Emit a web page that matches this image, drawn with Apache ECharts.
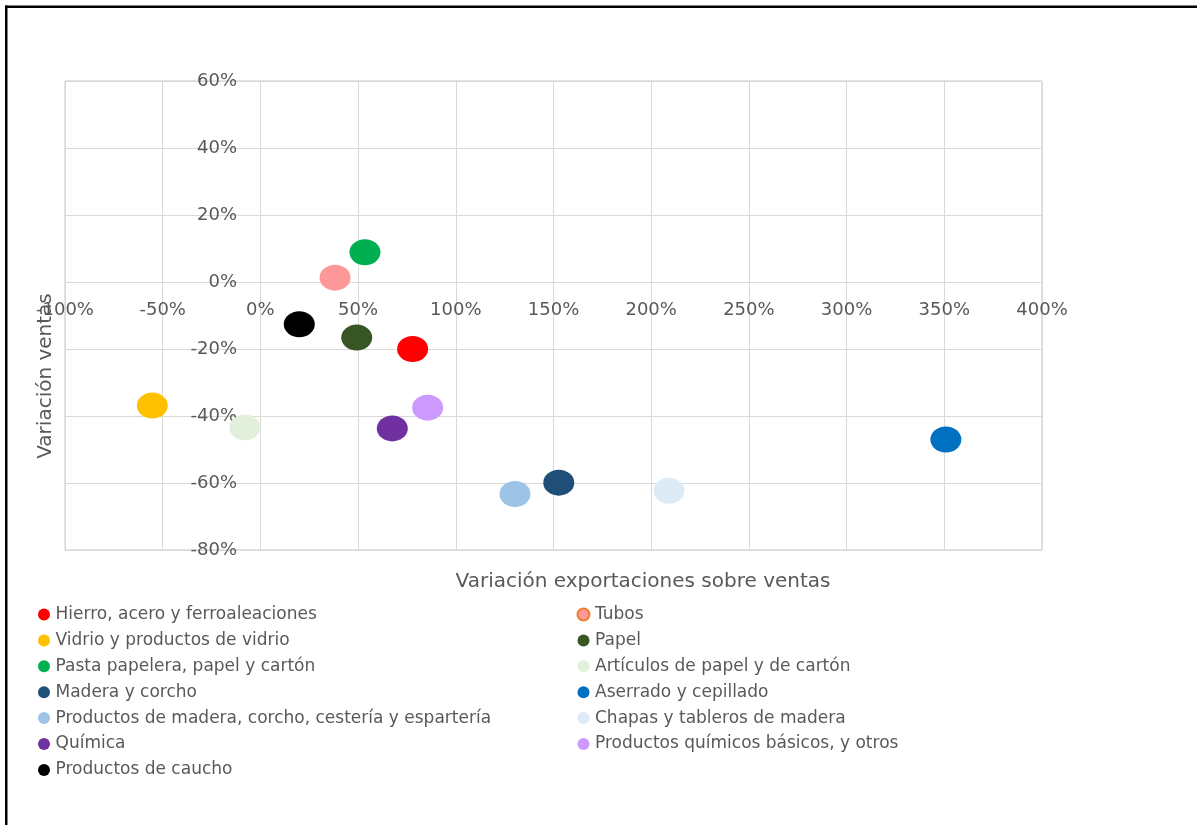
<!DOCTYPE html>
<html>
<head>
<meta charset="utf-8">
<script src="https://cdn.jsdelivr.net/npm/echarts@6/dist/echarts.min.js"></script>
<style>
  html, body { margin: 0; padding: 0; background: #fff; }
  #chart { width: 1197px; height: 825px; }
</style>
</head>
<body>
<div id="chart"></div>
<script>
// sectores
var names = [
  "Hierro, acero y ferroaleaciones",
  "Tubos",
  "Vidrio y productos de vidrio",
  "Papel",
  "Pasta papelera, papel y cartón",
  "Artículos de papel y de cartón",
  "Madera y corcho",
  "Aserrado y cepillado",
  "Productos de madera, corcho, cestería y espartería",
  "Chapas y tableros de madera",
  "Química",
  "Productos químicos básicos, y otros",
  "Productos de caucho"
];
// variación exportaciones sobre ventas (%)
var xVals = [77.9, 38.2, -55.3, 49.3, 53.5, -7.9, 152.7, 350.8, 130.3, 209.1, 67.5, 85.6, 19.9];
// variación ventas (%)
var yVals = [-20, 1.3, -36.9, -16.6, 8.9, -43.4, -59.9, -47, -63.3, -62.3, -43.7, -37.5, -12.6];
var colors = ["#FF0000", "#FF9999", "#FFC000", "#375623", "#00B050", "#E2EFDA",
  "#1F4E79", "#0070C0", "#9DC3E6", "#DDEBF7", "#7030A0", "#CC99FF", "#000000"];

var xTicks = { min: -100, max: 400, step: 50 };
var yTicks = { min: -80, max: 60, step: 20 };

var txt = "#595959";
var font = "DejaVu Sans";
var ellipse = "path://M0,50 A50,50 0 1,1 100,50 A50,50 0 1,1 0,50 Z";

var series = [];
for (var i = 0; i < names.length; i++) {
  series.push({
    name: names[i],
    type: "scatter",
    symbol: ellipse,
    symbolSize: [31, 26],
    itemStyle: { color: colors[i], opacity: 1 },
    data: [[xVals[i], yVals[i]]]
  });
}

// leyenda en dos columnas, orden por filas
var leftItems = [], rightItems = [];
for (var i = 0; i < names.length; i++) {
  var it = { name: names[i] };
  if (names[i] === "Tubos") {
    it.itemStyle = { borderColor: "#ED7D31", borderWidth: 2 };
  }
  if (i % 2 === 0) leftItems.push(it); else rightItems.push(it);
}

var legendBase = {
  orient: "vertical",
  top: 601,
  icon: "circle",
  itemWidth: 13,
  itemHeight: 12,
  itemGap: 8.9,
  selectedMode: false,
  textStyle: { color: txt, fontSize: 17, fontFamily: font, lineHeight: 15 }
};

// las etiquetas de los ejes van sobre el cruce en 0 (como en Excel)
var myChart = echarts.init(document.getElementById("chart"));
var option = {
  backgroundColor: "#fff",
  animation: false,
  grid: {
    left: 65, top: 81, width: 977, height: 469,
    outerBoundsMode: "none",
    containLabel: false,
    show: true, borderColor: "#c8c8c8", borderWidth: 1
  },
  legend: [
    Object.assign({}, legendBase, { left: 33, data: leftItems }),
    Object.assign({}, legendBase, { left: 571.5, data: rightItems })
  ],
  xAxis: {
    type: "value",
    min: xTicks.min, max: xTicks.max, interval: xTicks.step,
    axisLine: { show: false, onZero: false },
    axisTick: { show: false },
    splitLine: { lineStyle: { color: "#d9d9d9", width: 1 } },
    axisLabel: {
      color: txt, fontSize: 18, fontFamily: font, margin: -249,
      showMinLabel: true, showMaxLabel: true, hideOverlap: false,
      formatter: function (v) { return v + "%"; }
    }
  },
  yAxis: {
    type: "value",
    min: yTicks.min, max: yTicks.max, interval: yTicks.step,
    axisLine: { show: false, onZero: false },
    axisTick: { show: false },
    splitLine: { lineStyle: { color: "#d9d9d9", width: 1 } },
    axisLabel: {
      color: txt, fontSize: 18, fontFamily: font, margin: -172,
      showMinLabel: true, showMaxLabel: true, hideOverlap: false,
      formatter: function (v) { return v + "%"; }
    }
  },
  graphic: [
    { type: "rect", shape: { x: 5, y: 5.5, width: 1192, height: 2.5 }, style: { fill: "#000" }, silent: true },
    { type: "rect", shape: { x: 5, y: 5.5, width: 2.5, height: 820 }, style: { fill: "#000" }, silent: true },
    {
      type: "text", x: 643, y: 582,
      style: {
        text: "Variación exportaciones sobre ventas",
        fill: txt, font: "20px " + font, textAlign: "center", textVerticalAlign: "middle"
      }
    },
    {
      type: "text", x: 46, y: 376, rotation: Math.PI / 2,
      style: {
        text: "Variación ventas",
        fill: txt, font: "20px " + font, textAlign: "center", textVerticalAlign: "middle"
      }
    }
  ],
  series: series
};
myChart.setOption(option);
</script>
</body>
</html>
